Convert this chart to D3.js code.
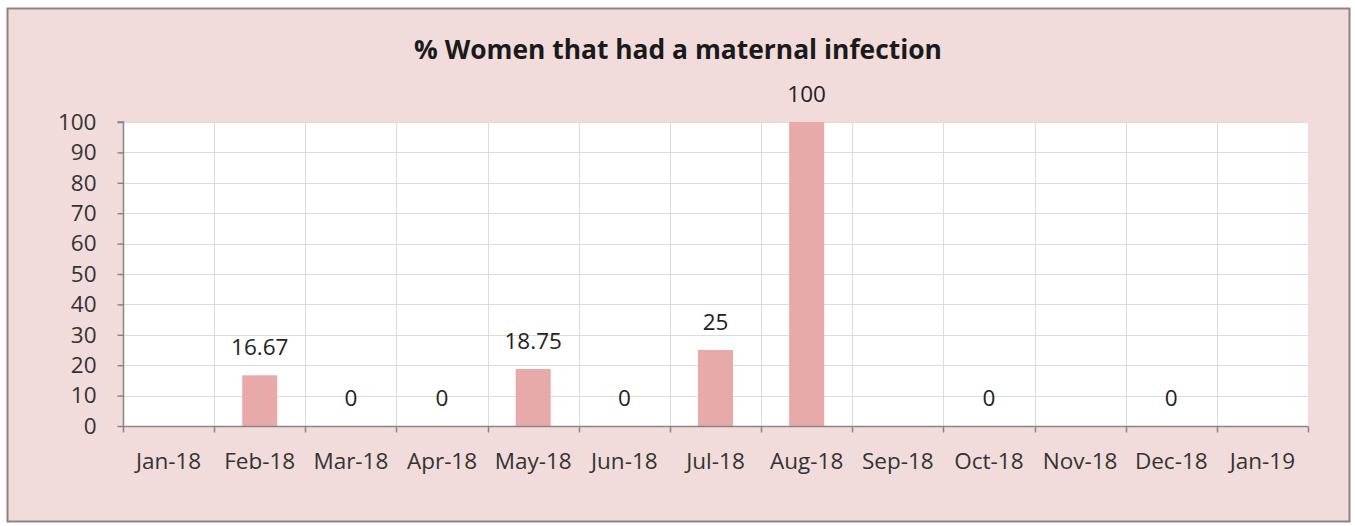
<!DOCTYPE html>
<html>
<head>
<meta charset="utf-8">
<script src="https://cdn.jsdelivr.net/npm/d3@7"></script>
<style>
  html, body { margin: 0; padding: 0; background: #ffffff; }
  svg { display: block; }
</style>
</head>
<body>
<svg id="chart" width="1355" height="526"></svg>
<script>
// Monthly share of women with a maternal infection (null = no data reported)
const months = ["Jan-18", "Feb-18", "Mar-18", "Apr-18", "May-18", "Jun-18", "Jul-18",
                "Aug-18", "Sep-18", "Oct-18", "Nov-18", "Dec-18", "Jan-19"];
const values = [null, 16.67, 0, 0, 18.75, 0, 25, 100, null, 0, null, 0, null];
const yTicks = [0, 10, 20, 30, 40, 50, 60, 70, 80, 90, 100];
const title = "% Women that had a maternal infection";

const svg = d3.select("#chart");
const font = "'Open Sans', Lato, sans-serif";
const labelSize = 22.5;

// chart background and frame
svg.append("rect")
  .attr("x", 7.5).attr("y", 8.5).attr("width", 1342).attr("height", 513)
  .attr("fill", "#f2dcdb").attr("stroke", "#8a8584").attr("stroke-width", 2);

const plot = { left: 123, right: 1308, top: 122, bottom: 426 };

const x = d3.scaleBand().domain(months).range([plot.left, plot.right]).paddingInner(0).paddingOuter(0);
const y = d3.scaleLinear().domain([0, 100]).range([plot.bottom, plot.top]);

// plot area
svg.append("rect")
  .attr("x", plot.left).attr("y", plot.top)
  .attr("width", plot.right - plot.left).attr("height", plot.bottom - plot.top)
  .attr("fill", "#ffffff");

// horizontal gridlines
svg.append("g")
  .selectAll("line").data(yTicks.filter(d => d > 0)).join("line")
  .attr("x1", plot.left).attr("x2", plot.right)
  .attr("y1", d => Math.round(y(d)) + 0.5).attr("y2", d => Math.round(y(d)) + 0.5)
  .attr("stroke", "#dcdcdc").attr("stroke-width", 1);

// vertical gridlines at category boundaries
svg.append("g")
  .selectAll("line").data(months.slice(1)).join("line")
  .attr("x1", d => Math.round(x(d)) + 0.5).attr("x2", d => Math.round(x(d)) + 0.5)
  .attr("y1", plot.top).attr("y2", plot.bottom)
  .attr("stroke", "#dcdcdc").attr("stroke-width", 1);

// bars
const barW = 35;
svg.append("g")
  .selectAll("rect").data(months.map((m, i) => ({ m, v: values[i] })).filter(d => d.v !== null && d.v > 0))
  .join("rect")
  .attr("x", d => x(d.m) + x.bandwidth() / 2 - barW / 2)
  .attr("y", d => y(d.v))
  .attr("width", barW)
  .attr("height", d => y(0) - y(d.v))
  .attr("fill", "#e8a9a9");

// value labels
svg.append("g")
  .selectAll("text").data(months.map((m, i) => ({ m, v: values[i] })).filter(d => d.v !== null))
  .join("text")
  .attr("x", d => x(d.m) + x.bandwidth() / 2)
  .attr("y", d => y(d.v) - 20)
  .attr("text-anchor", "middle")
  .attr("font-family", font).attr("font-size", labelSize)
  .attr("fill", "#222222")
  .text(d => String(d.v));

// y axis
const yAxis = d3.axisLeft(y).tickValues(yTicks).tickSize(6).tickPadding(21);
const gy = svg.append("g").attr("transform", `translate(${plot.left + 0.5},0)`).call(yAxis);
gy.select(".domain").attr("stroke", "#868686").attr("stroke-width", 1.5).attr("d", `M-6,${plot.top}H0V${plot.bottom}`);
gy.selectAll(".tick line").attr("stroke", "#868686").attr("stroke-width", 1.5);
gy.selectAll(".tick text").attr("font-family", font).attr("font-size", labelSize).attr("fill", "#333333");

// x axis with ticks at category boundaries
const gx = svg.append("g").attr("transform", `translate(0,${plot.bottom + 0.5})`);
gx.append("line").attr("x1", plot.left).attr("x2", plot.right).attr("stroke", "#868686").attr("stroke-width", 1.5);
gx.selectAll("line.tk").data(d3.range(months.length + 1)).join("line").attr("class", "tk")
  .attr("x1", i => Math.round(plot.left + i * x.bandwidth()) + 0.5)
  .attr("x2", i => Math.round(plot.left + i * x.bandwidth()) + 0.5)
  .attr("y1", 0).attr("y2", 6)
  .attr("stroke", "#868686").attr("stroke-width", 1.5);
gx.selectAll("text").data(months).join("text")
  .attr("x", d => x(d) + x.bandwidth() / 2)
  .attr("y", 42)
  .attr("text-anchor", "middle")
  .attr("font-family", font).attr("font-size", labelSize)
  .attr("fill", "#333333")
  .text(d => d);

// title
svg.append("text")
  .attr("x", 678).attr("y", 59)
  .attr("text-anchor", "middle")
  .attr("font-family", font).attr("font-weight", "bold").attr("font-size", 26.4)
  .attr("fill", "#1a1a1a")
  .text(title);
</script>
</body>
</html>
